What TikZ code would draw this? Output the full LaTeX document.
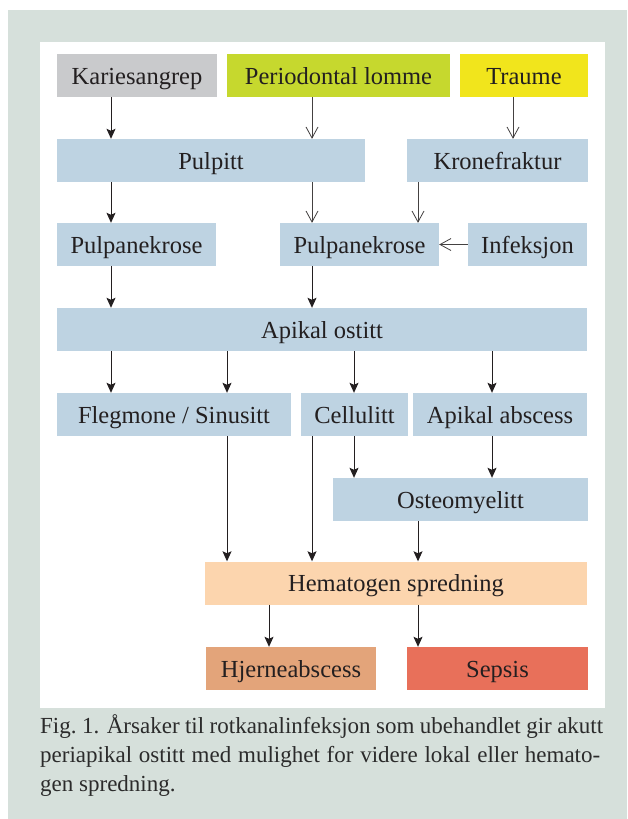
\documentclass[tikz,border=0pt]{standalone}
\usepackage{fontspec}
\setmainfont{Liberation Serif}
\usetikzlibrary{arrows.meta}
\definecolor{backgrey}{HTML}{D6E0DB}
\definecolor{boxblue}{HTML}{BED3E2}
\definecolor{boxgrey}{HTML}{C9CACC}
\definecolor{boxlime}{HTML}{C6D82E}
\definecolor{boxyellow}{HTML}{F1E51C}
\definecolor{boxpeach}{HTML}{FCD5AE}
\definecolor{boxtan}{HTML}{E3A47A}
\definecolor{boxred}{HTML}{E8705A}
\definecolor{inkcol}{HTML}{231F20}
\definecolor{capcol}{HTML}{2B2B2B}

\begin{document}
\begin{tikzpicture}[x=1pt,y=-1pt,
		box/.style={rectangle,inner sep=0pt,minimum height=43pt,text height=19.5pt,text depth=2.5pt,
			font=\fontsize{24.5}{24.5}\selectfont,text=inkcol},
		fillarrow/.style={-{Stealth[length=10pt,width=9pt,inset=2pt]},line width=1pt,draw=inkcol},
		openarrow/.style={-{Straight Barb[length=11pt,width=12pt]},line width=0.8pt,draw=inkcol!85},
		capline/.style={anchor=base west,inner sep=0pt,font=\fontsize{23}{29}\selectfont,text=capcol}]
		\useasboundingbox (0,0) rectangle (627,819);
		\fill[backgrey] (8,10) rectangle (627,819);
		\fill[white] (40,42) rectangle (605,708);
		
		% columns of the connectors
		\coordinate (c1) at (111,0);
		\coordinate (c2) at (227,0);
		\coordinate (c3) at (312,0);
		\coordinate (c4) at (354,0);
		\coordinate (c5) at (418,0);
		\coordinate (c6) at (492,0);
		\coordinate (c7) at (513,0);
		\coordinate (c8) at (269,0);
		
		\node[box,fill=boxgrey,minimum width=160pt]   (karies)    at (137,75.5)   {Kariesangrep};
		\node[box,fill=boxlime,minimum width=223pt]   (perio)     at (338.5,75.5) {Periodontal lomme};
		\node[box,fill=boxyellow,minimum width=128pt] (traume)    at (524,75.5)   {Traume};
		\node[box,fill=boxblue,minimum width=308pt]   (pulpitt)   at (211,160.5)  {Pulpitt};
		\node[box,fill=boxblue,minimum width=181pt]   (krone)     at (497.5,160.5) {Kronefraktur};
		\node[box,fill=boxblue,minimum width=159pt]   (nekroseA)  at (136.5,244.5) {Pulpanekrose};
		\node[box,fill=boxblue,minimum width=159pt]   (nekroseB)  at (359.5,244.5) {Pulpanekrose};
		\node[box,fill=boxblue,minimum width=119pt]   (infeksjon) at (527.5,244.5) {Infeksjon};
		\node[box,fill=boxblue,minimum width=530pt]   (ostitt)    at (322,329.5)  {Apikal ostitt};
		\node[box,fill=boxblue,minimum width=234pt]   (flegmone)  at (174,414.5)  {Flegmone / Sinusitt};
		\node[box,fill=boxblue,minimum width=107pt]   (cellulitt) at (354.5,414.5) {Cellulitt};
		\node[box,fill=boxblue,minimum width=174pt]   (abscess)   at (500,414.5)  {Apikal abscess};
		\node[box,fill=boxblue,minimum width=255pt]   (osteo)     at (460.5,499.5) {Osteomyelitt};
		\node[box,fill=boxpeach,minimum width=382pt]  (hema)      at (396,583)    {Hematogen spredning};
		\node[box,fill=boxtan,minimum width=170pt]    (hjerne)    at (291,668.5)  {Hjerneabscess};
		\node[box,fill=boxred,minimum width=181pt]    (sepsis)    at (497.5,668.5) {Sepsis};
		
		\draw[fillarrow] (karies.south -| c1) -- (pulpitt.north -| c1);
		\draw[openarrow] (perio.south -| c3) -- (pulpitt.north -| c3);
		\draw[openarrow] (traume.south -| c7) -- (krone.north -| c7);
		\draw[fillarrow] (pulpitt.south -| c1) -- (nekroseA.north -| c1);
		\draw[openarrow] (pulpitt.south -| c3) -- (nekroseB.north -| c3);
		\draw[openarrow] (krone.south -| c5) -- (nekroseB.north -| c5);
		\draw[openarrow] (infeksjon) -- (nekroseB);
		\draw[fillarrow] (nekroseA.south -| c1) -- (ostitt.north -| c1);
		\draw[fillarrow] (nekroseB.south -| c3) -- (ostitt.north -| c3);
		\draw[fillarrow] (ostitt.south -| c1) -- (flegmone.north -| c1);
		\draw[fillarrow] (ostitt.south -| c2) -- (flegmone.north -| c2);
		\draw[fillarrow] (ostitt.south -| c4) -- (cellulitt.north -| c4);
		\draw[fillarrow] (ostitt.south -| c6) -- (abscess.north -| c6);
		\draw[fillarrow] (cellulitt.south -| c4) -- (osteo.north -| c4);
		\draw[fillarrow] (abscess.south -| c6) -- (osteo.north -| c6);
		\draw[fillarrow] (flegmone.south -| c2) -- (hema.north -| c2);
		\draw[fillarrow] (cellulitt.south -| c3) -- (hema.north -| c3);
		\draw[fillarrow] (osteo.south -| c5) -- (hema.north -| c5);
		\draw[fillarrow] (hema.south -| c8) -- (hjerne.north -| c8);
		\draw[fillarrow] (hema.south -| c5) -- (sepsis.north -| c5);
		
		% caption
		\node[capline] (cap1) at (40,733) {\hbox to 563pt{Fig.~1. Årsaker til rotkanalinfeksjon som ubehandlet gir akutt}};
		\node[capline] (cap2) at (40,762) {\hbox to 560pt{periapikal ostitt med mulighet for videre lokal eller hemato-}};
		\node[capline] (cap3) at (40,791) {gen spredning.};
\end{tikzpicture}
\end{document}
